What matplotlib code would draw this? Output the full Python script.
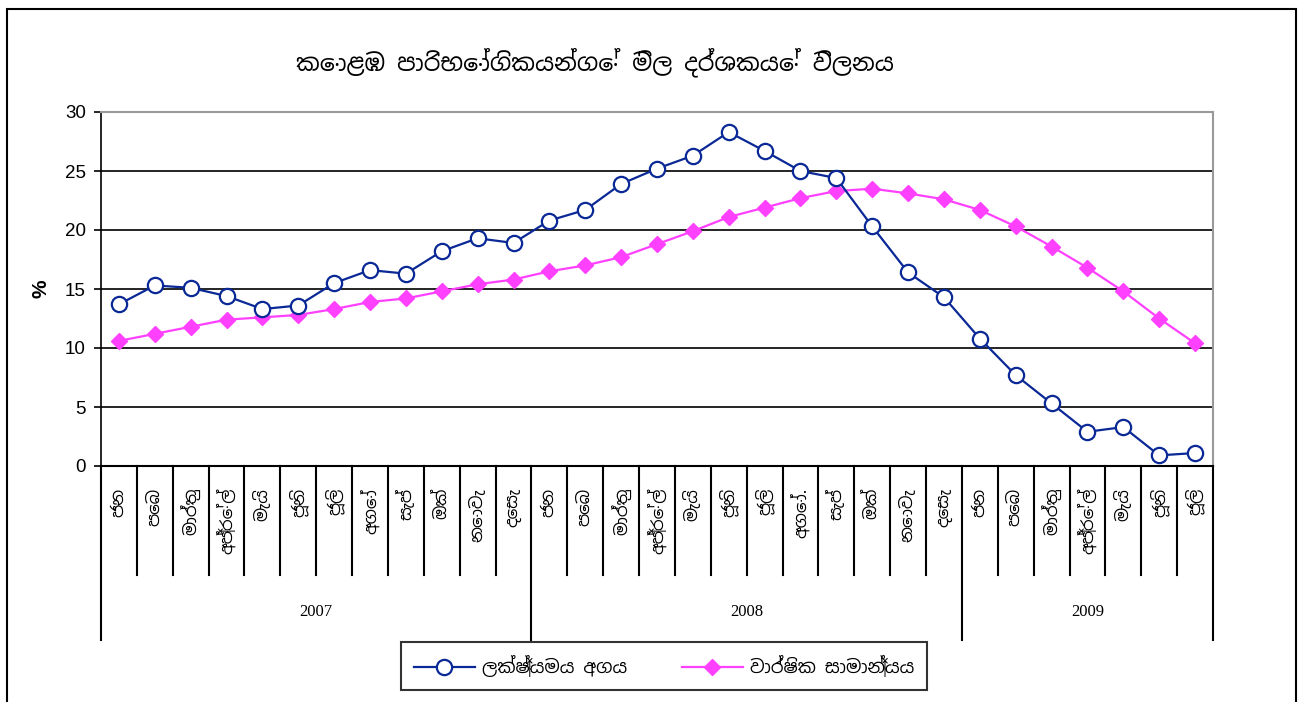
import matplotlib
matplotlib.use("Agg")
import matplotlib.pyplot as plt
from matplotlib.patches import Rectangle
from matplotlib.lines import Line2D
import matplotlib.transforms as mtransforms

SIN = ["Noto Sans Sinhala", "Noto Serif Sinhala", "Iskoola Pota", "DejaVu Sans"]

title = "කොළඹ පාරිභෝගිකයන්ගේ මිල දර්ශකයේ විලනය"
label_p2p = "ලක්ෂ්‍යමය අගය"
label_avg = "වාර්ෂික සාමාන්‍යය"

months_2007 = ["ජන", "පෙබ", "මාර්තු", "අප්‍රේල්", "මැයි", "ජූනි", "ජූලි",
               "අගෝ", "සැප්", "ඔක්", "නොවැ", "දෙසැ"]
months_2008 = ["ජන", "පෙබ", "මාර්තු", "අප්‍රේල්", "මැයි", "ජූනි", "ජූලි",
               "අගෝ.", "සැප්", "ඔක්", "නොවැ", "දෙසැ"]
months_2009 = ["ජන", "පෙබ", "මාර්තු", "අප්‍රේල්", "මැයි", "ජූනි", "ජූලි"]
years = ["2007", "2008", "2009"]
months = months_2007 + months_2008 + months_2009
year_sizes = [len(months_2007), len(months_2008), len(months_2009)]

point_to_point = [13.7, 15.3, 15.1, 14.4, 13.3, 13.6, 15.5, 16.6, 16.3, 18.2, 19.3, 18.9,
                  20.8, 21.7, 23.9, 25.2, 26.3, 28.3, 26.7, 25.0, 24.4, 20.3, 16.4, 14.3,
                  10.8, 7.7, 5.3, 2.9, 3.3, 0.9, 1.1]
annual_avg = [10.6, 11.2, 11.8, 12.4, 12.6, 12.8, 13.3, 13.9, 14.2, 14.8, 15.4, 15.8,
              16.5, 17.0, 17.7, 18.8, 19.9, 21.1, 21.9, 22.7, 23.3, 23.5, 23.1, 22.6,
              21.7, 20.3, 18.6, 16.8, 14.8, 12.5, 10.4]

W, H = 1303, 702
fig = plt.figure(figsize=(W / 100, H / 100), dpi=100)
ax = fig.add_axes([101 / W, 1 - 466 / H, 1112 / W, 354 / H])

x = list(range(len(months)))
ax.plot(x, point_to_point, color="#0A2896", lw=1.6, marker="o", ms=11,
        mfc="white", mec="#0A2896", mew=1.6, zorder=4)
ax.plot(x, annual_avg, color="#FF40FF", lw=1.6, marker="D", ms=8.5,
        mfc="#FF40FF", mec="#FF40FF", zorder=3)

ax.set_xlim(-0.5, len(months) - 0.5)
ax.set_ylim(0, 30)
ax.set_yticks(range(0, 31, 5))
ax.yaxis.grid(True, color="black", lw=1.2)
ax.set_axisbelow(True)
ax.tick_params(axis="y", length=5, width=1.2, labelsize=13.5, pad=6)
for lab in ax.get_yticklabels():
    lab.set_family("Liberation Sans")
ax.set_xticks([])
for s in ["top", "right"]:
    ax.spines[s].set_color("#999999")
    ax.spines[s].set_linewidth(1.5)
ax.spines["left"].set_linewidth(1.2)
ax.spines["bottom"].set_linewidth(1.5)
ax.set_ylabel("%", family="Liberation Sans", fontsize=15, fontweight="bold", labelpad=10)

# multi-level category axis
trans = mtransforms.blended_transform_factory(ax.transData, ax.transAxes)
px = 1 / 354
month_bottom = -(575 - 466) * px
year_bottom = -(640 - 466) * px
year_edges = [-0.5]
for n in year_sizes:
    year_edges.append(year_edges[-1] + n)
for i in range(len(months) + 1):
    pos = i - 0.5
    low = year_bottom if pos in year_edges else month_bottom
    ax.add_line(Line2D([pos, pos], [0, low], transform=trans, color="black",
                       lw=1.5, clip_on=False))
for i, m in enumerate(months):
    ax.text(i, -22 * px, m, transform=trans, rotation=90, ha="center", va="top",
            fontsize=12, family=SIN)
for k, yr in enumerate(years):
    mid = (year_edges[k] + year_edges[k + 1]) / 2
    ax.text(mid, -(612 - 466) * px, yr, transform=trans, ha="center", va="center",
            fontsize=12, family="Liberation Serif")

fig.text(595 / W, 1 - 62 / H, title, ha="center", va="center", fontsize=17, family=SIN)

handles = [Line2D([], [], color="#0A2896", lw=1.6, marker="o", ms=11, mfc="white",
                  mec="#0A2896", mew=1.6),
           Line2D([], [], color="#FF40FF", lw=1.6, marker="D", ms=8.5, mfc="#FF40FF",
                  mec="#FF40FF")]
leg = fig.legend(handles, [label_p2p, label_avg], loc="center",
                 bbox_to_anchor=(664 / W, 1 - 666 / H), ncol=2, frameon=True,
                 fancybox=False, edgecolor="black", handlelength=3.4, handletextpad=0.4,
                 columnspacing=3.0, borderpad=0.7, prop={"family": SIN, "size": 13})
leg.get_frame().set_linewidth(1.5)

fig.patches.append(Rectangle((7 / W, -0.01), 1289 / W, 1 - 9 / H + 0.01,
                             transform=fig.transFigure, fill=False, ec="black", lw=1.5))

fig.savefig("out.png", dpi=100)
